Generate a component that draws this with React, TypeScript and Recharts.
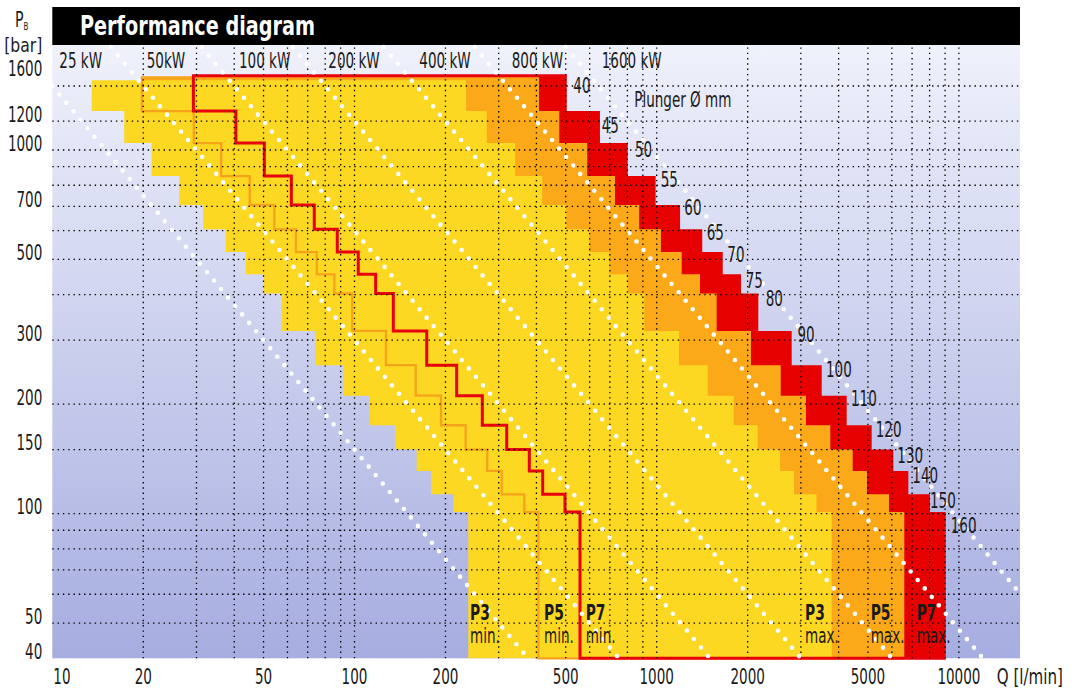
import React from "react"
import { ComposedChart, Area, Line, XAxis, YAxis } from "recharts"

// plunger diameters (mm) and the pressure step of each one (bar)
const PLUNGER_MM = [40, 45, 50, 55, 60, 65, 70, 75, 80, 90, 100, 110, 120, 130, 140, 150, 160]
const STEP_BAR = [1600, 1280, 1045, 848, 706, 605, 524, 455, 403, 318, 256, 211, 175, 150, 131, 113, 101]
const FLOOR_BAR = 40

// flow range per plunger row (l/min) for each pump size
const P3_TOP = 1555
const P3_MIN = [13.5, 17.3, 21.3, 26.3, 31.6, 37.5, 43.7, 50.2, 57.4, 74, 92.3, 112.5, 136.1, 160.6, 179.1, 212.3, 238]
const P3_MAX = [234, 274, 340, 418, 502, 598, 697, 802, 910, 1185, 1475, 1798, 2159, 2559, 2847, 3377, 3794]
const P5_TOP = 1585
const P5_MIN = [19.8, 29.4, 36.2, 45, 54.3, 64, 75, 85.8, 98.3, 127.1, 159.4, 193.3, 233.3, 275, 306.9, 364.7, 405.7]
const P5_MAX = [408, 476, 589, 728, 875, 1033, 1210, 1391, 1579, 2051, 2573, 3119, 3754, 4452, 4965, 5870, 6597]
const P7_TOP = 1600
const P7_MIN = [29.3, 40.5, 50.3, 61.8, 73.6, 87.7, 102.9, 117.5, 134.4, 173.4, 217.8, 264.8, 318.9, 378.8, 419.5, 497.2, 557.5]
const P7_MAX = [504, 649, 802, 992, 1195, 1415, 1654, 1901, 2169, 2797, 3516, 4253, 5145, 6067, 6802, 8023, 9045]

// constant power lines (where they enter / leave the plot)
const KW_LABELS = ["25 kW", "50kW", "100 kW", "200 kW", "400 kW", "800 kW", "1600 kW"]
const KW_FROM_Q = [10, 15.6, 31.2, 62.5, 125, 250, 500]
const KW_FROM_P = [1500, 1920, 1920, 1920, 1920, 1920, 1920]
const KW_TO_Q = [375, 750, 1500, 3000, 6000, 12000, 15930]
const KW_TO_P = [40, 40, 40, 40, 40, 40, 60.3]

const X_DOMAIN = [10, 15930]
const Y_DOMAIN = [40, 1920]
const X_TICKS = [10, 20, 50, 100, 200, 500, 1000, 2000, 5000, 10000]
const Y_TICKS = [40, 50, 100, 150, 200, 300, 500, 700, 1000, 1200, 1600]
const GRID_Q = [20, 30, 40, 50, 60, 70, 80, 90, 100, 200, 300, 400, 500, 600, 700, 800, 900,
  1000, 2000, 3000, 4000, 5000, 6000, 7000, 8000, 9000, 10000]
const GRID_P = [50, 60, 70, 80, 90, 100, 150, 200, 300, 400, 500, 600, 700, 800, 900, 1000, 1200, 1500]

const YELLOW = "#FDD823"
const ORANGE = "#FBA919"
const RED = "#E60000"
const FONT = "'DejaVu Sans', sans-serif"
const INK = "#1a1a1a"

// union of the plunger rows as a stepped [low, high] range
function regionSteps(top: number, minQ: number[], maxQ: number[]) {
  const levels = [top, ...STEP_BAR.slice(1), FLOOR_BAR]
  const n = minQ.length
  const xs = Array.from(new Set([...minQ, ...maxQ.slice(0, n - 1)])).sort((a, b) => a - b)
  const rows = xs.map((q) => {
    const k = minQ.filter((m) => m <= q).length
    const j = maxQ.filter((m) => m <= q).length
    return { q, range: [levels[k], levels[j]] }
  })
  rows.push({ q: maxQ[n - 1], range: rows[rows.length - 1].range })
  return rows
}

// bottom, left staircase and top edge of a region
function regionOutline(top: number, minQ: number[], maxQ: number[]) {
  const levels = [top, ...STEP_BAR.slice(1), FLOOR_BAR]
  const n = minQ.length
  const pts = [{ q: maxQ[n - 1], p: FLOOR_BAR }]
  for (let i = n - 1; i >= 0; i--) {
    pts.push({ q: minQ[i], p: levels[i + 1] })
    pts.push({ q: minQ[i], p: levels[i] })
  }
  pts.push({ q: maxQ[0], p: top })
  return pts
}

function T({ x, y, size = 21, sx = 0.644, anchor = "start", weight = "normal", fill = INK, children }: any) {
  return (
    <text
      transform={`translate(${x},${y}) scale(${sx},1)`}
      textAnchor={anchor}
      fontSize={size}
      fontWeight={weight}
      fill={fill}
      fontFamily={FONT}
    >
      {children}
    </text>
  )
}

function XTick(props: any) {
  const v = props.payload.value
  return (
    <g>
      <T x={v === 10 ? props.x + 1 : props.x} y={683.5} anchor={v === 10 ? "start" : "middle"}>
        {v}
      </T>
    </g>
  )
}

function YTick(props: any) {
  return (
    <g>
      <T x={42.3} y={props.y + 0.5} anchor="end">
        {props.payload.value}
      </T>
    </g>
  )
}

// label placement (text left edge, baseline) in page pixels
const KW_LABEL_X = [59.3, 146.7, 239, 328.3, 419.3, 511.7, 601.7]
const PLUNGER_LABEL_X = [573.3, 601.7, 635, 660.7, 684.3, 706.7, 727.3, 745.7, 765.7, 797.5, 826, 851, 875.7, 897.3, 912.3, 930, 950.7]
const PLUNGER_LABEL_Y = [93.3, 133, 156.7, 186.7, 215, 240, 261.7, 288.3, 306, 342.3, 376.7, 406, 436.7, 462.7, 483.3, 508.3, 533.3]

const P3_DATA = regionSteps(P3_TOP, P3_MIN, P3_MAX)
const P5_DATA = regionSteps(P5_TOP, P5_MIN, P5_MAX)
const P7_DATA = regionSteps(P7_TOP, P7_MIN, P7_MAX)
const P5_EDGE = regionOutline(P5_TOP, P5_MIN, P5_MAX)
const P7_EDGE = regionOutline(P7_TOP, P7_MIN, P7_MAX)

export default function App() {
  const gridLines = [
    ...GRID_Q.map((q) => [{ q, p: Y_DOMAIN[0] }, { q, p: Y_DOMAIN[1] }]),
    ...GRID_P.map((p) => [{ q: X_DOMAIN[0], p }, { q: X_DOMAIN[1], p }]),
  ]
  const powerLines = KW_LABELS.map((_, i) => [
    { q: KW_FROM_Q[i], p: KW_FROM_P[i] },
    { q: KW_TO_Q[i], p: KW_TO_P[i] },
  ])

  return (
    <div style={{ position: "absolute", left: 0, top: 0, width: 1081, height: 689, background: "#fff", overflow: "hidden" }}>
      <svg width={1081} height={689} style={{ position: "absolute", left: 0, top: 0 }}>
        <defs>
          <linearGradient id="bg" x1="0" y1="0" x2="0" y2="1">
            <stop offset="0%" stopColor="#EFF1FB" />
            <stop offset="100%" stopColor="#A6ADE0" />
          </linearGradient>
        </defs>
        <rect x={52.3} y={44} width={967.7} height={614.3} fill="url(#bg)" />
        <rect x={52.3} y={7} width={967.7} height={38} fill="#000" />
      </svg>

      <div style={{ position: "absolute", left: 0, top: 0 }}>
        <ComposedChart width={1081} height={689} margin={{ top: 47, right: 61, bottom: 0, left: 0 }}>
          <XAxis
            dataKey="q"
            type="number"
            scale="log"
            domain={X_DOMAIN}
            ticks={X_TICKS}
            interval={0}
            height={30.7}
            axisLine={false}
            tickLine={false}
            tick={XTick}
          />
          <YAxis
            type="number"
            scale="log"
            domain={Y_DOMAIN}
            ticks={Y_TICKS}
            interval={0}
            width={52.3}
            axisLine={false}
            tickLine={false}
            tick={YTick}
          />
          {/* P7 behind, P5, P3 on top */}
          <Area data={P7_DATA} dataKey="range" type="stepAfter" stroke="none" fill={RED} fillOpacity={1} isAnimationActive={false} dot={false} activeDot={false} />
          <Area data={P5_DATA} dataKey="range" type="stepAfter" stroke="none" fill={ORANGE} fillOpacity={1} isAnimationActive={false} dot={false} activeDot={false} />
          <Area data={P3_DATA} dataKey="range" type="stepAfter" stroke="none" fill={YELLOW} fillOpacity={1} isAnimationActive={false} dot={false} activeDot={false} />
          <Line data={P5_EDGE} dataKey="p" type="linear" stroke="#F7A21B" strokeWidth={2.3} strokeLinejoin="miter" dot={false} activeDot={false} isAnimationActive={false} />
          <Line data={P7_EDGE} dataKey="p" type="linear" stroke="#E8000C" strokeWidth={3} strokeLinejoin="miter" dot={false} activeDot={false} isAnimationActive={false} />
          {gridLines.map((d, i) => (
            <Line key={`g${i}`} data={d} dataKey="p" type="linear" stroke="#000" strokeWidth={1.3} strokeDasharray="1.4 3.9" dot={false} activeDot={false} isAnimationActive={false} />
          ))}
          {powerLines.map((d, i) => (
            <Line key={`kw${i}`} data={d} dataKey="p" type="linear" stroke="#fff" strokeWidth={4.6} strokeLinecap="round" strokeDasharray="0 11" dot={false} activeDot={false} isAnimationActive={false} />
          ))}
        </ComposedChart>
      </div>

      <svg width={1081} height={689} style={{ position: "absolute", left: 0, top: 0, pointerEvents: "none" }}>
        <text x={80} y={35} fontSize={27} fontWeight="bold" fill="#fff" fontFamily={FONT} textLength={235} lengthAdjust="spacingAndGlyphs">
          Performance diagram
        </text>
        <text transform="translate(15,27) scale(0.644,1)" fontSize={22} fill={INK} fontFamily={FONT}>
          P<tspan dy={3} fontSize={11}>B</tspan>
        </text>
        <T x={42.3} y={52} size={20} anchor="end" sx={0.78}>[bar]</T>
        {KW_LABELS.map((s, i) => (
          <T key={s} x={KW_LABEL_X[i]} y={68.3}>{s}</T>
        ))}
        <T x={634.3} y={106.5}>Plunger Ø mm</T>
        {PLUNGER_MM.map((d, i) => (
          <T key={d} x={PLUNGER_LABEL_X[i]} y={PLUNGER_LABEL_Y[i]}>{d}</T>
        ))}
        <T x={470} y={620} weight="bold" sx={0.66}>P3</T>
        <T x={470} y={642.5}>min.</T>
        <T x={544} y={620} weight="bold" sx={0.66}>P5</T>
        <T x={544} y={642.5}>min.</T>
        <T x={585.7} y={620} weight="bold" sx={0.66}>P7</T>
        <T x={585.7} y={642.5}>min.</T>
        <T x={805} y={620} weight="bold" sx={0.66}>P3</T>
        <T x={805} y={642.5}>max.</T>
        <T x={870.7} y={620} weight="bold" sx={0.66}>P5</T>
        <T x={870.7} y={642.5}>max.</T>
        <T x={916.7} y={620} weight="bold" sx={0.66}>P7</T>
        <T x={916.7} y={642.5}>max.</T>
        <T x={996.7} y={683.5} sx={0.72}>Q [l/min]</T>
      </svg>
    </div>
  )
}
